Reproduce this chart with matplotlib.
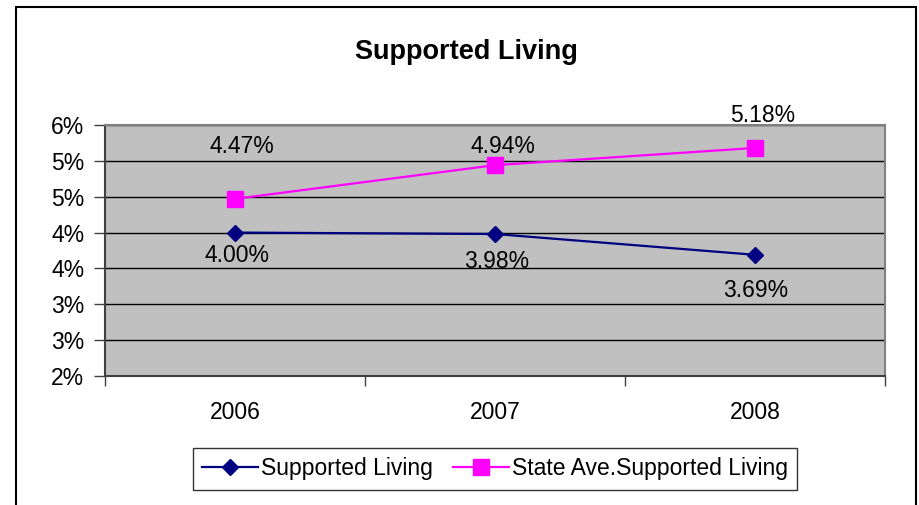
import math
import matplotlib
matplotlib.use("Agg")
import matplotlib.pyplot as plt
from matplotlib.patches import Rectangle
from matplotlib.ticker import FuncFormatter, MultipleLocator

plt.rcParams['font.family'] = ['Liberation Sans', 'DejaVu Sans']

years = ['2006', '2007', '2008']
supported = [4.00, 3.98, 3.69]        # percent
state_ave = [4.47, 4.94, 5.18]        # percent
sup_label = ['4.00%', '3.98%', '3.69%']
ave_label = ['4.47%', '4.94%', '5.18%']

# label offsets in pixels (the labels were dragged around in the original)
sup_offs = [(2, -23), (2, -27), (1, -36)]
ave_offs = [(7, 52), (8, 19), (8, 32)]

FS = 16.5

fig = plt.figure(figsize=(9.19, 5.05), dpi=100)
ax = fig.add_axes([105/919, 1 - 376/505, 780/919, 251/505])
ax.set_facecolor('#C0C0C0')

x = list(range(len(years)))
ax.plot(x, supported, color='#000080', lw=1.6, marker='D', ms=8.5,
        label='Supported Living', zorder=3)
ax.plot(x, state_ave, color='#FF00FF', lw=1.6, marker='s', ms=11.5,
        label='State Ave.Supported Living', zorder=3)

for xi, v, t, o in zip(x, supported, sup_label, sup_offs):
    ax.annotate(t, (xi, v), xytext=o, textcoords='offset pixels',
                ha='center', va='center', fontsize=FS)
for xi, v, t, o in zip(x, state_ave, ave_label, ave_offs):
    ax.annotate(t, (xi, v), xytext=o, textcoords='offset pixels',
                ha='center', va='center', fontsize=FS, annotation_clip=False)

ax.set_xlim(-0.5, 2.5)
ax.set_ylim(2.0, 5.5)
ax.yaxis.set_major_locator(MultipleLocator(0.5))
ax.yaxis.set_major_formatter(FuncFormatter(lambda v, p: '%d%%' % math.floor(v + 0.5)))
ax.grid(axis='y', color='black', lw=1)
ax.set_axisbelow(True)

ax.set_xticks([-0.5, 0.5, 1.5, 2.5])
ax.set_xticklabels([])
ax.set_xticks(x, minor=True)
ax.set_xticklabels(years, minor=True)
ax.tick_params(axis='x', which='minor', length=0, pad=18, labelsize=FS)
ax.tick_params(axis='x', which='major', length=7, width=1, color='#404040')
ax.tick_params(axis='y', length=8, width=1, color='#404040', labelsize=FS, pad=7)

for s in ['left', 'bottom']:
    ax.spines[s].set_color('#404040')
    ax.spines[s].set_linewidth(1.5)
for s in ['top', 'right']:
    ax.spines[s].set_color('#808080')
    ax.spines[s].set_linewidth(1.5)

fig.text(466/919, 1 - 52/505, 'Supported Living', ha='center', va='center',
         fontsize=19.5, fontweight='bold')

leg = fig.legend(loc='center', bbox_to_anchor=(495/919, 1 - 469/505), ncol=2,
                 fontsize=FS, frameon=True, fancybox=False, edgecolor='black',
                 borderpad=0.4, handlelength=2.45, handletextpad=0.15,
                 columnspacing=0.85, borderaxespad=0)
leg.get_frame().set_linewidth(1)

# outer chart border
fig.patches.append(Rectangle((16/919, -0.1), 900/919, 1.1 - 7/505,
                             transform=fig.transFigure, fill=False,
                             edgecolor='black', lw=1.5))

fig.savefig('out.png', dpi=100)
